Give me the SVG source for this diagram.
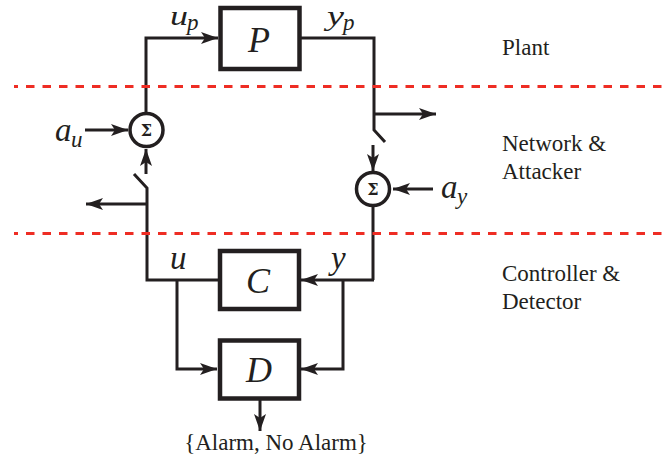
<svg xmlns="http://www.w3.org/2000/svg" width="664" height="457" viewBox="0 0 664 457">
<style>
text{font-family:"Liberation Serif",serif;fill:#231f20}
.lbl{font-size:23px}
.m{font-style:italic;font-size:33px}
.t{font-style:italic;font-size:28px}
.s{font-style:italic;font-size:23px}
.c{font-style:italic;font-size:36px;text-anchor:middle}
.sig{font-family:"DejaVu Serif",serif;font-weight:bold;font-size:16px;text-anchor:middle}
.box{fill:#fff;stroke:#231f20;stroke-width:4.500}
.sum{fill:#fff;stroke:#231f20;stroke-width:3.500}
.w{fill:none;stroke:#231f20;stroke-width:3}
.red{fill:none;stroke:#ee2d24;stroke-width:3;stroke-dasharray:8.500 8;stroke-dashoffset:4.500}
</style>
<defs>
<marker id="a" markerUnits="userSpaceOnUse" markerWidth="18" markerHeight="14" refX="17" refY="7" orient="auto"><path d="M0 1 L17 7 L0 13 L4 7Z" fill="#231f20"/></marker>
</defs>
<g id="connectors">
<path class="w" marker-end="url(#a)" d="M146 112V38H218"/>
<path class="w" d="M301 38H374V130L385 142"/>
<path class="w" marker-end="url(#a)" d="M374 114H436"/>
<path class="w" marker-end="url(#a)" d="M373 145V171"/>
<path class="w" d="M373 206V280"/>
<path class="w" marker-end="url(#a)" d="M433 189H393"/>
<path class="w" marker-end="url(#a)" d="M85 130H128"/>
<path class="w" marker-end="url(#a)" d="M146 174V149"/>
<path class="w" d="M134 174L147 188V280H218"/>
<path class="w" marker-end="url(#a)" d="M147 204H86"/>
<path class="w" marker-end="url(#a)" d="M374 280H301"/>
<path class="w" marker-end="url(#a)" d="M177 280V369H217"/>
<path class="w" marker-end="url(#a)" d="M343 280V369H301"/>
<path class="w" marker-end="url(#a)" d="M260 400V431"/>
</g>
<g id="boundaries">
<path class="red" d="M14 86.500H664"/>
<path class="red" d="M14 233.500H664"/>
</g>
<g id="plant"><rect class="box" x="220.500" y="8" width="79" height="61"/><text class="c" x="259" y="52">P</text></g>
<g id="controller"><rect class="box" x="220" y="251" width="79" height="58"/><text class="c" x="258" y="293">C</text></g>
<g id="detector"><rect class="box" x="220" y="340.500" width="79" height="58"/><text class="c" x="259" y="382">D</text></g>
<g id="sum-u"><circle class="sum" cx="146.500" cy="130" r="16.500"/><text class="sig" x="146.500" y="136">Σ</text></g>
<g id="sum-y"><circle class="sum" cx="373" cy="189" r="16.500"/><text class="sig" x="373" y="195">Σ</text></g>
<g id="labels">
<text class="t" x="170" y="24.500" textLength="18" lengthAdjust="spacingAndGlyphs">u</text><text class="s" x="187" y="30">p</text>
<text class="t" x="327" y="24.500" textLength="17" lengthAdjust="spacingAndGlyphs">y</text><text class="s" x="343" y="30">p</text>
<text class="m" x="55" y="141">a</text><text class="s" x="71" y="147">u</text>
<text class="m" x="441" y="198">a</text><text class="s" x="457" y="204">y</text>
<text class="m" x="170" y="269">u</text>
<text class="m" x="331" y="269">y</text>
<text class="lbl" x="502" y="55">Plant</text>
<text class="lbl" x="502" y="151">Network &amp;</text>
<text class="lbl" x="502" y="179">Attacker</text>
<text class="lbl" x="502" y="281">Controller &amp;</text>
<text class="lbl" x="502" y="309">Detector</text>
<text class="lbl" x="276" y="450" text-anchor="middle">{Alarm, No Alarm}</text>
</g>
</svg>
